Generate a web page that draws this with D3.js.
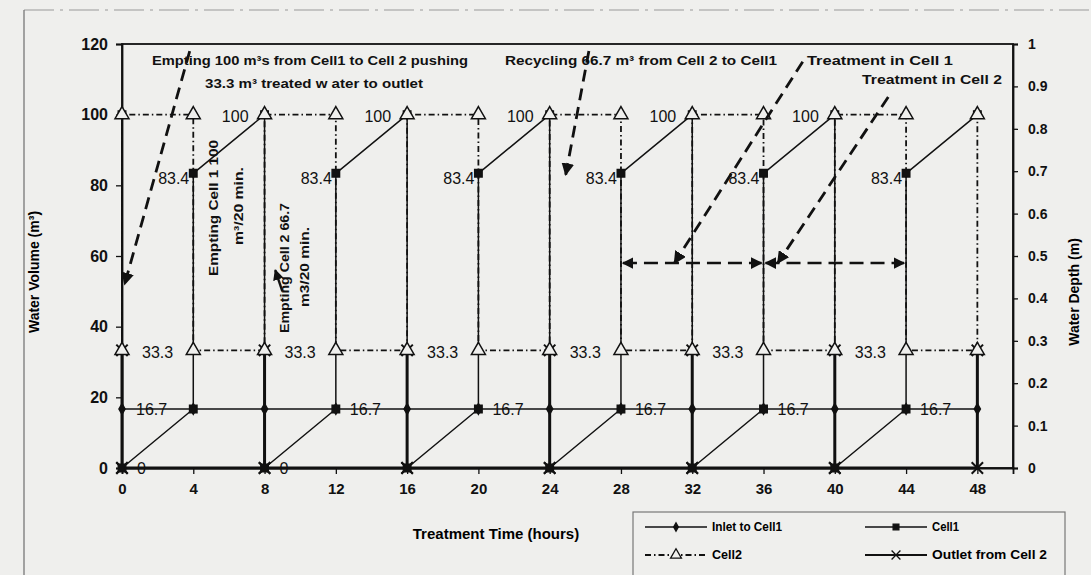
<!DOCTYPE html>
<html lang="en">
<head>
<meta charset="utf-8">
<title>Water volume in cells</title>
<script src="https://cdn.jsdelivr.net/npm/d3@7"></script>
<style>
  html, body { margin: 0; padding: 0; background: #efefed; }
  svg { display: block; font-family: "Liberation Sans", Arial, sans-serif; }
  .tick text { font-weight: bold; fill: #111; }
  .lbl { font-size: 16px; fill: #111; }
  .note { font-size: 13px; font-weight: bold; fill: #111; }
</style>
</head>
<body>
<script>

// ---- data ----
var xTicks = [0, 4, 8, 12, 16, 20, 24, 28, 32, 36, 40, 44, 48];
var yTicks = [0, 20, 40, 60, 80, 100, 120];
var depthTicks = [0, 0.1, 0.2, 0.3, 0.4, 0.5, 0.6, 0.7, 0.8, 0.9, 1];
var depthLabels = ["0", "0.1", "0.2", "0.3", "0.4", "0.5", "0.6", "0.7", "0.8", "0.9", "1"];

// [hours, m3]
var inlet = [[0,16.7],[4,16.7],[8,16.7],[12,16.7],[16,16.7],[20,16.7],[24,16.7],
             [28,16.7],[32,16.7],[36,16.7],[40,16.7],[44,16.7],[48,16.7]];

var cell1 = [[0,100],[0,0],[4,16.7],[4,83.4],[8,100],[8,0],[12,16.7],[12,83.4],[16,100],
             [16,0],[20,16.7],[20,83.4],[24,100],[24,0],[28,16.7],[28,83.4],[32,100],
             [32,0],[36,16.7],[36,83.4],[40,100],[40,0],[44,16.7],[44,83.4],[48,100]];

var cell2 = [[0,33.3],[0,100],[4,100],[4,33.3],[8,33.3],[8,100],[12,100],[12,33.3],
             [16,33.3],[16,100],[20,100],[20,33.3],[24,33.3],[24,100],[28,100],[28,33.3],
             [32,33.3],[32,100],[36,100],[36,33.3],[40,33.3],[40,100],[44,100],[44,33.3],
             [48,33.3],[48,100]];

var outlet = [[0,0],[0,33.3],[0,0],[8,0],[8,33.3],[8,0],[16,0],[16,33.3],[16,0],
              [24,0],[24,33.3],[24,0],[32,0],[32,33.3],[32,0],[40,0],[40,33.3],[40,0],
              [48,0],[48,33.3]];

// value labels: hours where each label is written
var lbl100 = [8, 16, 24, 32, 40];
var lbl834 = [4, 12, 20, 28, 36, 44];
var lbl333 = [0, 8, 16, 24, 32, 40];
var lbl167 = [0, 12, 20, 28, 36, 44];
var lbl0 = [0, 8];

// annotation pointers, [hours, m3] from -> to
var pointers = [
  [[3.8, 118], [0.15, 52]],
  [[26.2, 118], [24.9, 83]],
  [[38.2, 115], [31.0, 58]],
  [[43.0, 105], [36.8, 58]]
];
// treatment periods drawn as double arrows at one level
var periods = [[28, 36], [36, 44]];
var periodLevel = 58;


var W = 1091, H = 575;
var svg = d3.select("body").append("svg").attr("width", W).attr("height", H);

var x = d3.scaleLinear().domain([0, 50]).range([122, 1013]);
var y = d3.scaleLinear().domain([0, 120]).range([468, 44]);
var yR = d3.scaleLinear().domain([0, 1]).range([468, 44]);

// arrow heads
var defs = svg.append("defs");
defs.append("marker").attr("id", "head")
    .attr("viewBox", "0 -5 10 10").attr("refX", 9).attr("refY", 0)
    .attr("markerWidth", 4.5).attr("markerHeight", 4.5)
    .attr("orient", "auto-start-reverse").attr("markerUnits", "strokeWidth")
    .append("path").attr("d", "M0,-5L10,0L0,5Z").attr("fill", "#111");

// outer frame of the scan
svg.append("line").attr("x1", 24).attr("x2", 1091).attr("y1", 10).attr("y2", 10)
   .attr("stroke", "#999").attr("stroke-width", 1.2).attr("stroke-dasharray", "30,6,3,6");
svg.append("line").attr("x1", 24).attr("x2", 24).attr("y1", 10).attr("y2", 575)
   .attr("stroke", "#777").attr("stroke-width", 1.3);

// plot box
svg.append("rect").attr("x", x(0)).attr("y", y(120))
   .attr("width", x(50) - x(0)).attr("height", y(0) - y(120))
   .attr("fill", "none").attr("stroke", "#111").attr("stroke-width", 1.8);

// axes
var gx = svg.append("g").attr("transform", "translate(0," + y(0) + ")")
    .call(d3.axisBottom(x).tickValues(xTicks).tickSize(6).tickPadding(9));
gx.selectAll("text").style("font-size", "15px");

var gy = svg.append("g").attr("transform", "translate(" + x(0) + ",0)")
    .call(d3.axisLeft(y).tickValues(yTicks).tickSize(6).tickPadding(8));
gy.selectAll("text").style("font-size", "16px");

var gr = svg.append("g").attr("transform", "translate(" + x(50) + ",0)")
    .call(d3.axisRight(yR).tickValues(depthTicks).tickSize(5).tickPadding(10)
          .tickFormat(function(d, i) { return depthLabels[i]; }));
gr.selectAll("text").style("font-size", "14px");

svg.selectAll(".domain").attr("stroke", "#111").attr("stroke-width", 1.8);
svg.selectAll(".tick line").attr("stroke", "#111").attr("stroke-width", 1.3);

// axis titles
svg.append("text").attr("transform", "translate(34,272) rotate(-90)")
   .attr("text-anchor", "middle").attr("dominant-baseline", "central")
   .style("font-size", "14px").style("font-weight", "bold").text("Water Volume (m³)");
svg.append("text").attr("transform", "translate(1074,292) rotate(-90)")
   .attr("text-anchor", "middle").attr("dominant-baseline", "central")
   .style("font-size", "14px").style("font-weight", "bold").text("Water Depth (m)");
svg.append("text").attr("x", 496).attr("y", 539).attr("text-anchor", "middle")
   .style("font-size", "15px").style("font-weight", "bold").text("Treatment Time (hours)");

// series
var line = d3.line().x(function(d) { return x(d[0]); }).y(function(d) { return y(d[1]); });

var symX = { draw: function(ctx, size) {
  var r = Math.sqrt(size) / 2;
  ctx.moveTo(-r, -r); ctx.lineTo(r, r);
  ctx.moveTo(r, -r); ctx.lineTo(-r, r);
}};

var series = [
  { name: "Outlet from Cell 2", data: outlet, width: 3, dash: null, sym: symX, size: 130, fill: "none" },
  { name: "Cell1", data: cell1, width: 1.5, dash: null, sym: d3.symbolSquare, size: 55, fill: "#111" },
  { name: "Cell2", data: cell2, width: 1.8, dash: "6,3,1.5,3", sym: d3.symbolTriangle, size: 85, fill: "#efefed" },
  { name: "Inlet to Cell1", data: inlet, width: 1.6, dash: null, sym: d3.symbolDiamond, size: 32, fill: "#111" }
];

series.forEach(function(s) {
  svg.append("path").datum(s.data).attr("d", line)
     .attr("fill", "none").attr("stroke", "#111").attr("stroke-width", s.width)
     .attr("stroke-dasharray", s.dash);
});
series.forEach(function(s) {
  svg.append("g").selectAll("path").data(s.data).enter().append("path")
     .attr("transform", function(d) { return "translate(" + x(d[0]) + "," + y(d[1]) + ")"; })
     .attr("d", d3.symbol().type(s.sym).size(s.size))
     .attr("fill", s.fill).attr("stroke", "#111").attr("stroke-width", s.sym === symX ? 2 : 1.5);
});

// value labels
function labels(times, val, text, dx, dy, anchor) {
  svg.append("g").selectAll("text").data(times).enter().append("text")
     .attr("class", "lbl").attr("x", function(d) { return x(d) + dx; })
     .attr("y", y(val) + dy).attr("text-anchor", anchor)
     .attr("dominant-baseline", "central").text(text);
}
labels(lbl100, 100, "100", -16, 2, "end");
labels(lbl834, 83.4, "83.4", -4, 5, "end");
labels(lbl333, 33.3, "33.3", 20, 2, "start");
labels(lbl167, 16.7, "16.7", 14, 1, "start");
labels(lbl0, 0, "0", 15, 0, "start");

// annotations
function note(tx, ty, str, len) {
  svg.append("text").attr("class", "note").attr("x", tx).attr("y", ty)
     .attr("text-anchor", "middle").attr("dominant-baseline", "central")
     .attr("textLength", len).attr("lengthAdjust", "spacingAndGlyphs").text(str);
}
note(310, 60, "Empting 100 m³s from Cell1 to Cell 2 pushing", 316);
note(314, 83, "33.3 m³ treated w ater to outlet", 218);
note(641, 60, "Recycling 66.7 m³  from Cell 2 to Cell1", 272);
note(880, 60, "Treatment in Cell 1", 146);
note(932, 79, "Treatment in Cell 2", 140);

function vnote(tx, ty, str, len) {
  svg.append("text").attr("class", "note")
     .attr("transform", "translate(" + tx + "," + ty + ") rotate(-90)")
     .attr("text-anchor", "middle").attr("dominant-baseline", "central")
     .attr("textLength", len).attr("lengthAdjust", "spacingAndGlyphs").text(str);
}
vnote(213, 208, "Empting Cell 1 100", 136);
vnote(238, 206, "m³/20 min.", 78);
vnote(284, 268, "Empting Cell 2 66.7", 130);
vnote(304, 267, "m3/20 min.", 80);

// dashed pointers
svg.append("g").selectAll("line").data(pointers).enter().append("line")
   .attr("x1", function(d) { return x(d[0][0]); }).attr("y1", function(d) { return y(d[0][1]); })
   .attr("x2", function(d) { return x(d[1][0]); }).attr("y2", function(d) { return y(d[1][1]); })
   .attr("stroke", "#111").attr("stroke-width", 2.8).attr("stroke-dasharray", "12,7")
   .attr("marker-end", "url(#head)");

svg.append("g").selectAll("line").data(periods).enter().append("line")
   .attr("x1", function(d) { return x(d[0]) + 2; }).attr("x2", function(d) { return x(d[1]) - 2; })
   .attr("y1", y(periodLevel)).attr("y2", y(periodLevel))
   .attr("stroke", "#111").attr("stroke-width", 2.6).attr("stroke-dasharray", "14,7")
   .attr("marker-start", "url(#head)").attr("marker-end", "url(#head)");

// small arrow beside the cell 2 note
svg.append("line").attr("x1", x(9.0)).attr("y1", y(50)).attr("x2", x(8.6)).attr("y2", y(56))
   .attr("stroke", "#111").attr("stroke-width", 2.4).attr("marker-end", "url(#head)");

// legend
var lg = svg.append("g");
lg.append("rect").attr("x", 633).attr("y", 512).attr("width", 432).attr("height", 70)
  .attr("fill", "none").attr("stroke", "#777").attr("stroke-width", 1.2);

var legendItems = [
  { s: series[3], lx: 645, ly: 527, tl: 70 },
  { s: series[1], lx: 865, ly: 527, tl: 27 },
  { s: series[2], lx: 645, ly: 555, tl: 30 },
  { s: series[0], lx: 865, ly: 555, tl: 115 }
];
legendItems.forEach(function(it) {
  var s = it.s, w = 62;
  lg.append("line").attr("x1", it.lx).attr("x2", it.lx + w).attr("y1", it.ly).attr("y2", it.ly)
    .attr("stroke", "#111").attr("stroke-width", Math.min(s.width, 2))
    .attr("stroke-dasharray", s.dash);
  lg.append("path").attr("transform", "translate(" + (it.lx + w / 2) + "," + it.ly + ")")
    .attr("d", d3.symbol().type(s.sym).size(s.size * 0.6))
    .attr("fill", s.fill).attr("stroke", "#111").attr("stroke-width", 1.3);
  lg.append("text").attr("x", it.lx + w + 5).attr("y", it.ly)
    .attr("dominant-baseline", "central").style("font-size", "12px").style("font-weight", "bold")
    .attr("textLength", it.tl).attr("lengthAdjust", "spacingAndGlyphs")
    .text(s.name);
});

</script>
</body>
</html>
